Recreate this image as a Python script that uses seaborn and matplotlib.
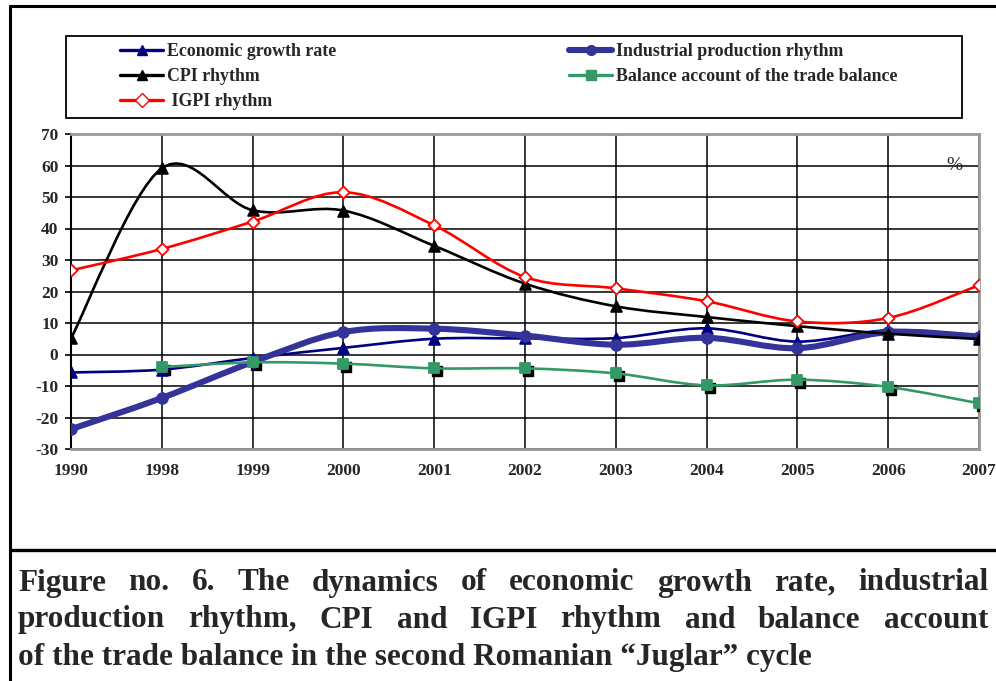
import numpy as np
import seaborn as sns
import matplotlib.pyplot as plt
from matplotlib.path import Path
from matplotlib.patches import PathPatch, Rectangle
from matplotlib.lines import Line2D
import matplotlib.transforms as mtransforms

years = ["1990", "1998", "1999", "2000", "2001", "2002", "2003", "2004", "2005", "2006", "2007"]
economic_growth = [-5.7, -4.8, -1.1, 2.1, 5.0, 5.1, 5.2, 8.3, 4.1, 7.7, 6.0]
industrial_prod = [-23.7, -13.8, -2.4, 7.1, 8.2, 6.0, 3.1, 5.3, 2.0, 7.1, 5.7]
cpi_rhythm = [5.1, 59.1, 45.8, 45.7, 34.5, 22.5, 15.3, 11.9, 9.0, 6.6, 4.9]
trade_balance = [np.nan, -4.0, -2.5, -2.9, -4.4, -4.4, -6.0, -9.8, -8.0, -10.3, -15.5]
igpi_rhythm = [26.7, 33.5, 42.2, 51.5, 41.0, 24.6, 21.0, 16.9, 10.5, 11.6, 22.0]

labels = ["Economic growth rate", "Industrial production rhythm", "CPI rhythm",
          "Balance account of the trade balance", "IGPI rhythm"]

W, H = 996, 681
sns.set_style("white")
plt.rcParams['font.family'] = ['Liberation Serif', 'DejaVu Serif']
plt.rcParams['font.weight'] = 'bold'
plt.rcParams['axes.unicode_minus'] = False

fig = plt.figure(figsize=(W / 100, H / 100), dpi=100)
ax = fig.add_axes([71 / W, 1 - 449 / H, (979 - 71) / W, (449 - 134) / H])


def smooth_path(xs, ys):
    # Excel-like smoothed line: cubic Bezier with Catmull-Rom tangents
    pts = [(x, y) for x, y in zip(xs, ys) if not np.isnan(y)]
    pts = np.array(pts, dtype=float)
    n = len(pts)
    verts = [tuple(pts[0])]
    codes = [Path.MOVETO]
    for i in range(n - 1):
        p0 = pts[i - 1] if i > 0 else pts[i]
        p1, p2 = pts[i], pts[i + 1]
        p3 = pts[i + 2] if i + 2 < n else pts[i + 1]
        c1 = p1 + (p2 - p0) / 6
        c2 = p2 - (p3 - p1) / 6
        verts += [tuple(c1), tuple(c2), tuple(p2)]
        codes += [Path.CURVE4] * 3
    return Path(verts, codes)


xi = np.arange(len(years))
series = [
    (economic_growth, "#000080", 1.9, "^", 60, "#000080", "#000080"),
    (industrial_prod, "#333399", 4.4, "o", 60, "#333399", "#333399"),
    (cpi_rhythm, "black", 1.9, "^", 60, "black", "black"),
    (trade_balance, "#339966", 1.9, "s", 45, "#339966", "#339966"),
    (igpi_rhythm, "red", 1.9, "D", 38, "white", "red"),
]

# gridlines
for v in range(-30, 71, 10):
    ax.axhline(v, color="black", lw=1.1, zorder=1)
for i in xi:
    ax.axvline(i, color="black", lw=1.1, zorder=1)

shadow = mtransforms.offset_copy(ax.transData, fig=fig, x=3, y=-3, units="dots")
ax.scatter(xi, trade_balance, marker="s", s=45, color="black", transform=shadow, zorder=3)

handles = []
for k, (vals, col, lw, mk, ms, fc, ec) in enumerate(series):
    ax.add_patch(PathPatch(smooth_path(xi, vals), facecolor="none", edgecolor=col,
                           lw=lw, zorder=3 + k, capstyle="round", joinstyle="round"))
    sns.scatterplot(x=xi, y=vals, marker=mk, s=ms, facecolor=fc, edgecolor=ec,
                    linewidth=1.3, ax=ax, zorder=3.5 + k)
    handles.append(Line2D([], [], color=col, lw=max(lw, 2.4), marker=mk,
                          markersize=7, markerfacecolor=fc, markeredgecolor=ec))

ax.set_xlim(0, 10)
ax.set_ylim(-30, 70)
ax.set_yticks(range(-30, 71, 10))
ax.set_xticks(xi)
ax.set_xticklabels(years)
ax.tick_params(axis="y", left=True, length=4, width=1.2, pad=5, labelsize=12.5, color="black")
ax.tick_params(axis="x", length=0, pad=10, labelsize=12.5)
for s in ["top", "right", "bottom"]:
    ax.spines[s].set_color("#999999")
    ax.spines[s].set_linewidth(2)
ax.spines["left"].set_color("black")
ax.spines["left"].set_linewidth(1.5)
for t in ax.get_xticklabels() + ax.get_yticklabels():
    t.set_fontweight("bold")

ax.text(0.973, 0.9, "%", transform=ax.transAxes, ha="center", va="center",
        fontsize=14, fontweight="normal")

# legend box and entries
fig.patches.append(Rectangle((66 / W, 1 - 118 / H), (962 - 66) / W, (118 - 36) / H,
                             transform=fig.transFigure, fill=False, ec="black", lw=1.3))
leg_kw = dict(frameon=False, loc="upper left", borderpad=0,
              borderaxespad=0, handlelength=2.4, handletextpad=0.25, labelspacing=0.45,
              prop={"weight": "bold", "size": 12.9})
fig.legend([handles[0], handles[2], handles[4]], [labels[0], labels[2], " " + labels[4]],
           bbox_to_anchor=(120 / W, 1 - 43 / H), **leg_kw)
fig.legend([handles[1], handles[3]], [labels[1], labels[3]],
           bbox_to_anchor=(569 / W, 1 - 43 / H), **leg_kw)

# outer frame lines
fig.add_artist(Line2D([10 / W, 10 / W], [0, 1 - 6 / H], color="black", lw=2.2))
fig.add_artist(Line2D([10 / W, 1], [1 - 6 / H, 1 - 6 / H], color="black", lw=2.2))
fig.add_artist(Line2D([10 / W, 1], [1 - 550 / H, 1 - 550 / H], color="black", lw=2.4))

# caption, justified like the source
caption = ["Figure no. 6. The dynamics of economic growth rate, industrial",
           "production rhythm, CPI and IGPI rhythm and balance account",
           "of the trade balance in the second Romanian \u201cJuglar\u201d cycle"]
cap_kw = dict(fontsize=22.5, fontweight="bold", va="center", ha="left")
renderer = fig.canvas.get_renderer()
y_lines = [583, 620, 657]
for j, line in enumerate(caption):
    if j < 2:
        words = line.split(" ")
        texts = [fig.text(0, 1 - y_lines[j] / H, w, **cap_kw) for w in words]
        widths = [t.get_window_extent(renderer).width for t in texts]
        gap = (988 - 18 - sum(widths)) / (len(words) - 1)
        x = 18
        for t, w in zip(texts, widths):
            t.set_x(x / W)
            x += w + gap
    else:
        fig.text(18 / W, 1 - y_lines[j] / H, line, **cap_kw)

fig.savefig("out.png", dpi=100)
